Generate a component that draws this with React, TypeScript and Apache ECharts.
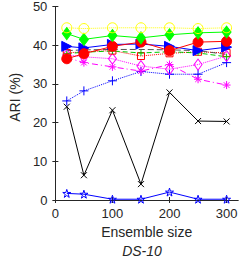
import React, { useEffect, useRef } from "react";
import * as echarts from "echarts";

const ensembleSizes = [20, 50, 100, 150, 200, 250, 300];
const xTicks = [0, 100, 200, 300];

const yellowCircle = [44.5, 44.3, 44.5, 44.5, 44.5, 44.3, 44.5];
const greenDiamond = [43.0, 41.5, 42.5, 41.9, 42.7, 43.2, 43.4];
const blueTriangle = [39.7, 39.3, 40.2, 40.3, 39.7, 38.6, 39.5];
const redCircle = [36.5, 37.8, 39.7, 40.8, 38.6, 40.8, 41.0];
const blackDashed = [38.6, 38.8, 38.9, 38.9, 38.8, 38.6, 37.6];
const greenDashed = [37.8, 38.2, 38.5, 38.0, 38.3, 38.0, 37.0];
const redSquare = [38.0, 38.3, 38.6, 37.2, 37.9, 38.3, 38.0];
const magentaDiamond = [37.5, 37.0, 36.5, 34.6, 33.8, 35.0, 37.2];
const magentaStar = [36.8, 35.5, 34.4, 33.3, 35.0, 31.2, 29.7];
const bluePlus = [25.6, 28.2, 30.8, 33.2, 32.5, 32.5, 35.5];
const blackCross = [24.1, 6.4, 23.2, 4.1, 27.8, 20.4, 20.3];
const bluePentagram = [1.7, 1.5, 0.2, 0.2, 2.05, 0.2, 0.2];

const PLUS = "path://M5,0L5,10M0,5L10,5";
const CROSS = "path://M0,0L10,10M10,0L0,10";
const ASTER = "path://M5,0L5,10M0,5L10,5M1.5,1.5L8.5,8.5M8.5,1.5L1.5,8.5";
const PENTA =
  "path://M5,0L6.12,3.45L9.76,3.45L6.82,5.59L7.94,9.05L5,6.91L2.06,9.05L3.18,5.59L0.24,3.45L3.88,3.45Z";

const FONT = "Liberation Sans";
const AX = "#262626";

function pairs(vals: number[]) {
  return ensembleSizes.map((x, i) => [x, vals[i]]);
}

function mk(
  data: number[],
  color: string,
  lineType: any,
  symbol: string,
  size: number | number[],
  filled: boolean,
  extra: any = {}
) {
  return {
    type: "line",
    data: pairs(data),
    symbol,
    symbolSize: size,
    showAllSymbol: true,
    lineStyle: { color, width: 1, type: lineType },
    itemStyle: filled
      ? { color, borderColor: color, borderWidth: 1 }
      : { color: "none", borderColor: color, borderWidth: 1 },
    emphasis: { disabled: true },
    ...extra,
  };
}

export default function App() {
  const ref = useRef<HTMLDivElement>(null);
  useEffect(() => {
    const chart = echarts.init(ref.current!, null, { renderer: "svg" });
    const axisCommon = {
      axisLine: { show: true, lineStyle: { color: AX, width: 1 } },
      axisTick: { show: true, inside: true, length: 3, lineStyle: { color: AX } },
      splitLine: { show: false },
    };
    chart.setOption({
      animation: false,
      grid: { left: 44, right: 4, top: 5, bottom: 58, containLabel: false },
      xAxis: [
        {
          type: "value",
          min: 0,
          max: 320,
          interval: 100,
          position: "bottom",
          ...axisCommon,
          axisTick: { ...axisCommon.axisTick, customValues: xTicks },
          axisLabel: {
            customValues: xTicks,
            color: AX,
            fontFamily: FONT,
            fontSize: 13,
            margin: 7,
          },
          name: "Ensemble size",
          nameLocation: "middle",
          nameGap: 24,
          nameTextStyle: { color: AX, fontFamily: FONT, fontSize: 14 },
        },
        {
          type: "value",
          min: 0,
          max: 320,
          interval: 100,
          position: "top",
          ...axisCommon,
          axisTick: { ...axisCommon.axisTick, customValues: xTicks },
          axisLabel: { show: false },
        },
      ],
      yAxis: [
        {
          type: "value",
          min: 0,
          max: 50,
          interval: 10,
          position: "left",
          ...axisCommon,
          axisLabel: { color: AX, fontFamily: FONT, fontSize: 13, margin: 8 },
          name: "ARI (%)",
          nameLocation: "middle",
          nameGap: 25,
          nameTextStyle: { color: AX, fontFamily: FONT, fontSize: 14, padding: [0, 0, 0, 12] },
        },
        {
          type: "value",
          min: 0,
          max: 50,
          interval: 10,
          position: "right",
          ...axisCommon,
          axisLabel: { show: false },
        },
      ],
      graphic: [
        {
          type: "text",
          x: 142,
          y: 251,
          style: {
            text: "DS-10",
            font: `italic 14px ${FONT}`,
            fill: AX,
            textAlign: "center",
            textVerticalAlign: "middle",
          },
        },
      ],
      series: [
        mk(bluePentagram, "#0000ff", "solid", PENTA, 8, false),
        mk(blackCross, "#000000", "solid", CROSS, 6, false),
        mk(bluePlus, "#0000ff", "dotted", PLUS, 9, false),
        mk(magentaStar, "#ff00ff", [6, 3, 1, 3], ASTER, 8, false),
        mk(magentaDiamond, "#ff00ff", "dotted", "diamond", [8, 11], false),
        mk(redSquare, "#ff0000", "dotted", "rect", 7, false),
        mk(greenDashed, "#00cc00", [5, 3], PLUS, 6, false),
        mk(blackDashed, "#555555", [6, 3], "none", 1, false),
        mk(blueTriangle, "#0000ff", "solid", "triangle", [10, 10], true, { symbolRotate: -90 }),
        mk(redCircle, "#ff0000", "solid", "circle", 10, true),
        mk(greenDiamond, "#00ff00", "solid", "diamond", [9, 12], true),
        mk(yellowCircle, "#ffff00", "dotted", "circle", 10, false),
      ],
    });
    return () => chart.dispose();
  }, []);
  return (
    <div
      ref={ref}
      style={{ position: "fixed", left: 0, top: 0, width: 242, height: 258, background: "#fff" }}
    />
  );
}
